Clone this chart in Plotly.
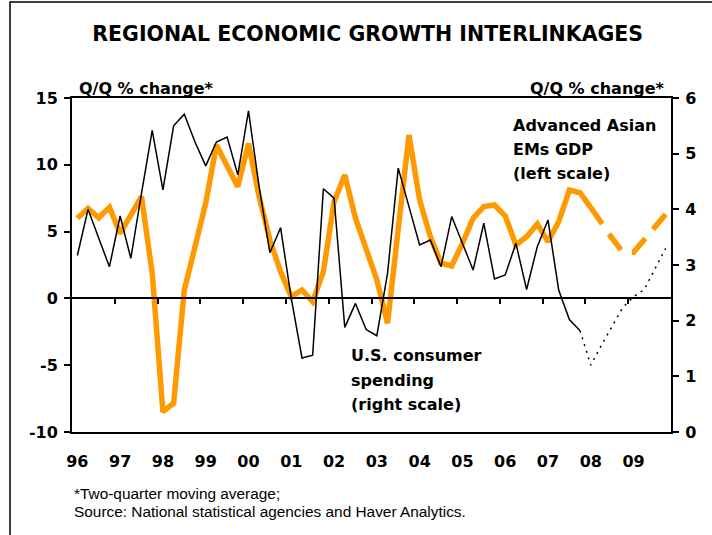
import plotly.graph_objects as go

# ---------------- data ----------------
year_labels = ["96", "97", "98", "99", "00", "01", "02", "03", "04", "05", "06", "07", "08", "09"]
left_ticks = [-10, -5, 0, 5, 10, 15]
left_tick_labels = ["-10", "-5", "0", "5", "10", "15"]
right_ticks = [0, 1, 2, 3, 4, 5, 6]

# Advanced Asian EMs GDP, Q/Q % change (2-qtr m.a.), left scale, 1996Q1..2009Q4
asia_gdp = [6.0, 6.74, 6.04, 6.82, 4.87, 6.24, 7.61, 1.88,
            -8.48, -7.85, 0.63, 3.87, 7.12, 11.48, 9.98, 8.36,
            11.6, 7.6, 4.37, 2.0, 0.13, 0.63, -0.25, 2.0,
            7.24, 9.24, 6.0, 3.75, 1.38, -1.86, 5.3, 12.23,
            7.37, 4.62, 2.63, 2.43, 4.12, 6.0, 6.87, 6.99,
            6.17, 4.0, 4.62, 5.57, 4.25, 5.74, 8.11, 7.91,
            6.8, 5.6, 4.5, 3.45, 3.45, 4.4, 5.4, 6.3]

# U.S. consumer spending, Q/Q % change (2-qtr m.a.), right scale, 1996Q1..2009Q4
us_consumption = [3.17, 4.0, 3.48, 2.97, 3.88, 3.12, 4.29, 5.42,
                  4.35, 5.5, 5.71, 5.21, 4.78, 5.21, 5.3, 4.62,
                  5.77, 4.4, 3.22, 3.67, 2.4, 1.33, 1.38, 4.37,
                  4.2, 1.88, 2.31, 1.84, 1.73, 2.85, 4.74, 4.05,
                  3.36, 3.45, 2.97, 3.87, 3.39, 2.91, 3.75, 2.75,
                  2.82, 3.39, 2.56, 3.33, 3.81, 2.55, 2.02, 1.82,
                  1.2, 1.56, 1.9, 2.24, 2.43, 2.56, 2.93, 3.3]

asia_last_actual = 48   # index of last actual quarter (forecast afterwards)
us_last_actual = 47

QPY = 4  # quarters per year
quarters = list(range(len(asia_gdp)))
label_pos = [i * QPY for i in range(len(year_labels))]
boundary_pos = [i * QPY - 0.5 for i in range(1, len(year_labels))]

ORANGE = "#FF9900"
BOLD = "DejaVu Sans"

fig = go.Figure()

fig.add_trace(go.Scatter(
    x=quarters[:asia_last_actual + 1], y=asia_gdp[:asia_last_actual + 1],
    mode="lines", line=dict(color=ORANGE, width=5.5),
    xaxis="x", yaxis="y", hoverinfo="skip"))
fig.add_trace(go.Scatter(
    x=quarters[asia_last_actual:], y=asia_gdp[asia_last_actual:],
    mode="lines", line=dict(color=ORANGE, width=5.5, dash="20px,12px"),
    xaxis="x", yaxis="y", hoverinfo="skip"))
fig.add_trace(go.Scatter(
    x=quarters[:us_last_actual + 1], y=us_consumption[:us_last_actual + 1],
    mode="lines", line=dict(color="black", width=1.5),
    xaxis="x2", yaxis="y2", hoverinfo="skip"))
fig.add_trace(go.Scatter(
    x=quarters[us_last_actual:], y=us_consumption[us_last_actual:],
    mode="lines", line=dict(color="black", width=1.5, dash="2px,5px"),
    xaxis="x2", yaxis="y2", hoverinfo="skip"))

xr = [-0.5, len(quarters) - 0.5]
left_range = [left_ticks[0], left_ticks[-1]]
right_range = [right_ticks[0], right_ticks[-1]]
zero_pos = (0 - left_range[0]) / (left_range[1] - left_range[0])

tickfont = dict(family=BOLD, size=16, color="black", weight="bold")

fig.update_layout(
    width=712, height=535,
    margin=dict(l=72, r=41, t=98, b=103),
    paper_bgcolor="white", plot_bgcolor="white",
    showlegend=False,
    title=dict(text="REGIONAL ECONOMIC GROWTH INTERLINKAGES",
               x=367.7 / 712, xref="container", xanchor="center",
               y=1 - 33.7 / 535, yref="container", yanchor="middle",
               font=dict(family=BOLD, size=20.5, color="black", weight="bold")),
    xaxis=dict(range=xr, tickmode="array", tickvals=label_pos, ticktext=year_labels,
               ticks="", showline=True, mirror=True, linecolor="black", linewidth=2,
               showgrid=False, zeroline=False, tickfont=tickfont,
               ticklabelstandoff=14),
    xaxis2=dict(range=xr, overlaying="x", anchor="free", position=zero_pos,
                tickmode="array", tickvals=boundary_pos, ticks="outside",
                ticklen=5, tickwidth=2, tickcolor="black",
                showticklabels=False, showline=True, linecolor="black",
                linewidth=2, showgrid=False, zeroline=False),
    yaxis=dict(range=left_range, tickmode="array", tickvals=left_ticks,
               ticktext=left_tick_labels,
               ticks="outside", ticklen=6, tickwidth=2, tickcolor="black",
               showline=True, linecolor="black", linewidth=2,
               showgrid=False, zeroline=False, tickfont=tickfont,
               ticklabelstandoff=3),
    yaxis2=dict(range=right_range, overlaying="y", side="right", anchor="x",
                tickmode="array", tickvals=right_ticks,
                ticktext=[str(v) for v in right_ticks],
                ticks="outside", ticklen=6, tickwidth=2, tickcolor="black",
                showline=True, linecolor="black", linewidth=2,
                showgrid=False, zeroline=False, tickfont=tickfont,
                ticklabelstandoff=3),
)

def px_x(px):
    return (px - 72) / 599

def px_y(py):
    return (432 - py) / 334

ann_font = dict(family=BOLD, size=16, color="black", weight="bold")
notes = [
    ("Advanced Asian", 512.3, 125.0, "left"),
    ("EMs GDP", 512.3, 149.3, "left"),
    ("(left scale)", 512.3, 173.7, "left"),
    ("U.S. consumer", 350.0, 355.8, "left"),
    ("spending", 350.0, 380.8, "left"),
    ("(right scale)", 350.0, 404.2, "left"),
    ("Q/Q % change*", 78.3, 88.8, "left"),
    ("Q/Q % change*", 666.3, 88.8, "right"),
]
for txt, x, y, anc in notes:
    fig.add_annotation(text=txt, xref="paper", yref="paper", x=px_x(x), y=px_y(y),
                       xanchor=anc, yanchor="middle", showarrow=False,
                       font=ann_font, borderpad=0)

foot_font = dict(family="Liberation Sans", size=15.4, color="black")
for txt, y in [("*Two-quarter moving average;", 493.5),
               ("Source: National statistical agencies and Haver Analytics.", 511.5)]:
    fig.add_annotation(text=txt, xref="paper", yref="paper", x=px_x(73.3), y=px_y(y),
                       xanchor="left", yanchor="middle", showarrow=False,
                       font=foot_font, borderpad=0)

# outer frame of the chart (left and top edges visible in the reference)
fig.add_shape(type="rect", xref="paper", yref="paper",
              x0=px_x(10), x1=px_x(725), y0=px_y(550), y1=px_y(2),
              line=dict(color="black", width=1.5), fillcolor="rgba(0,0,0,0)",
              layer="below")

# page body without default margin so the figure starts at the window's corner
fig.write_html("out.html",
               config={"displayModeBar": False},
               post_script="document.body.style.margin='0';document.body.style.overflow='hidden';")
